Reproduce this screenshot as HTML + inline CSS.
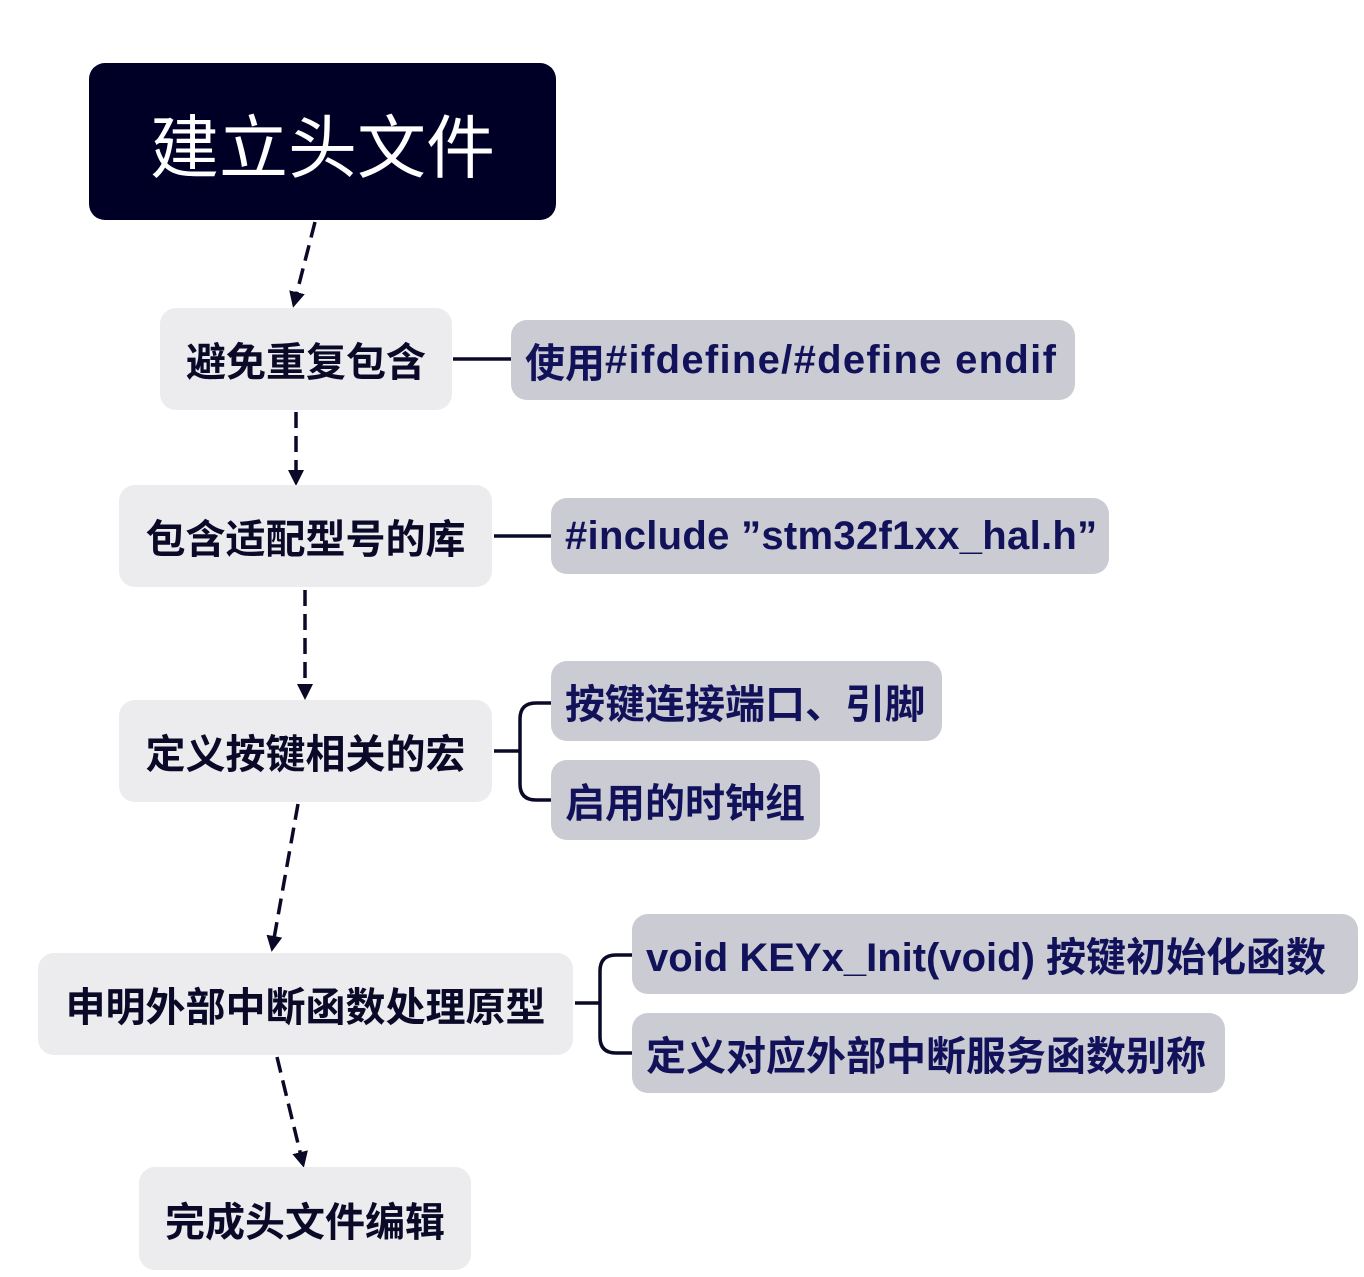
<!DOCTYPE html>
<html><head><meta charset="utf-8"><style>
body{margin:0;width:1364px;height:1277px;background:#fff;position:relative;overflow:hidden;font-family:"Liberation Sans","Noto Sans CJK SC",sans-serif;}
.n{position:absolute;display:flex;align-items:center;justify-content:center;border-radius:16px;font-weight:bold;white-space:nowrap;}
.l{background:#ecebee;color:#0a0a28;font-size:40px;}
.r{background:#cbcbd3;color:#12125a;font-size:40px;justify-content:flex-start;padding-left:14px;box-sizing:border-box;}
svg{position:absolute;left:0;top:0;}
</style></head><body>
<svg width="1364" height="1277">
<defs><marker id="a" markerWidth="16" markerHeight="16" refX="8" refY="8" orient="auto" markerUnits="userSpaceOnUse" viewBox="0 0 16 16"><path d="M0,0 L16,8 L0,16 z" fill="#0a0a28"/></marker></defs>
<g stroke="#0a0a28" stroke-width="3.5" fill="none">
<g stroke-dasharray="16,8" marker-end="url(#a)">
<line x1="315" y1="222" x2="295" y2="300"/>
<line x1="296" y1="412" x2="296" y2="478"/>
<line x1="305" y1="590" x2="305" y2="692"/>
<line x1="298" y1="804" x2="273" y2="944"/>
<line x1="277" y1="1057" x2="302" y2="1160"/>
</g>
<line x1="453" y1="359" x2="511" y2="359"/>
<line x1="494" y1="536" x2="551" y2="536"/>
<path d="M494,751 H520 M551,703 H536 Q520,703 520,719 V784 Q520,800 536,800 H551"/>
<path d="M575,1003 H600 M632,955 H616 Q600,955 600,971 V1037 Q600,1053 616,1053 H632"/>
</g>
</svg>
<div class="n" style="left:89px;top:63px;width:467px;height:157px;background:#000027;color:#fff;font-size:69px;font-weight:normal;">建立头文件</div>
<div class="n l" style="left:160px;top:308px;width:292px;height:102px;">避免重复包含</div>
<div class="n r" style="left:511px;top:320px;width:564px;height:80px;">使用<span style="letter-spacing:1.3px">#ifdefine/#define endif</span></div>
<div class="n l" style="left:119px;top:485px;width:373px;height:102px;">包含适配型号的库</div>
<div class="n r" style="left:551px;top:498px;width:558px;height:76px;"><span style="letter-spacing:0.3px">#include ”stm32f1xx_hal.h”</span></div>
<div class="n l" style="left:119px;top:700px;width:373px;height:102px;">定义按键相关的宏</div>
<div class="n r" style="left:551px;top:661px;width:391px;height:80px;">按键连接端口、引脚</div>
<div class="n r" style="left:551px;top:760px;width:269px;height:80px;">启用的时钟组</div>
<div class="n l" style="left:38px;top:953px;width:535px;height:102px;">申明外部中断函数处理原型</div>
<div class="n r" style="left:632px;top:914px;width:726px;height:80px;">void KEYx_Init(void) 按键初始化函数</div>
<div class="n r" style="left:632px;top:1013px;width:593px;height:80px;">定义对应外部中断服务函数别称</div>
<div class="n l" style="left:139px;top:1167px;width:332px;height:103px;">完成头文件编辑</div>
</body></html>
